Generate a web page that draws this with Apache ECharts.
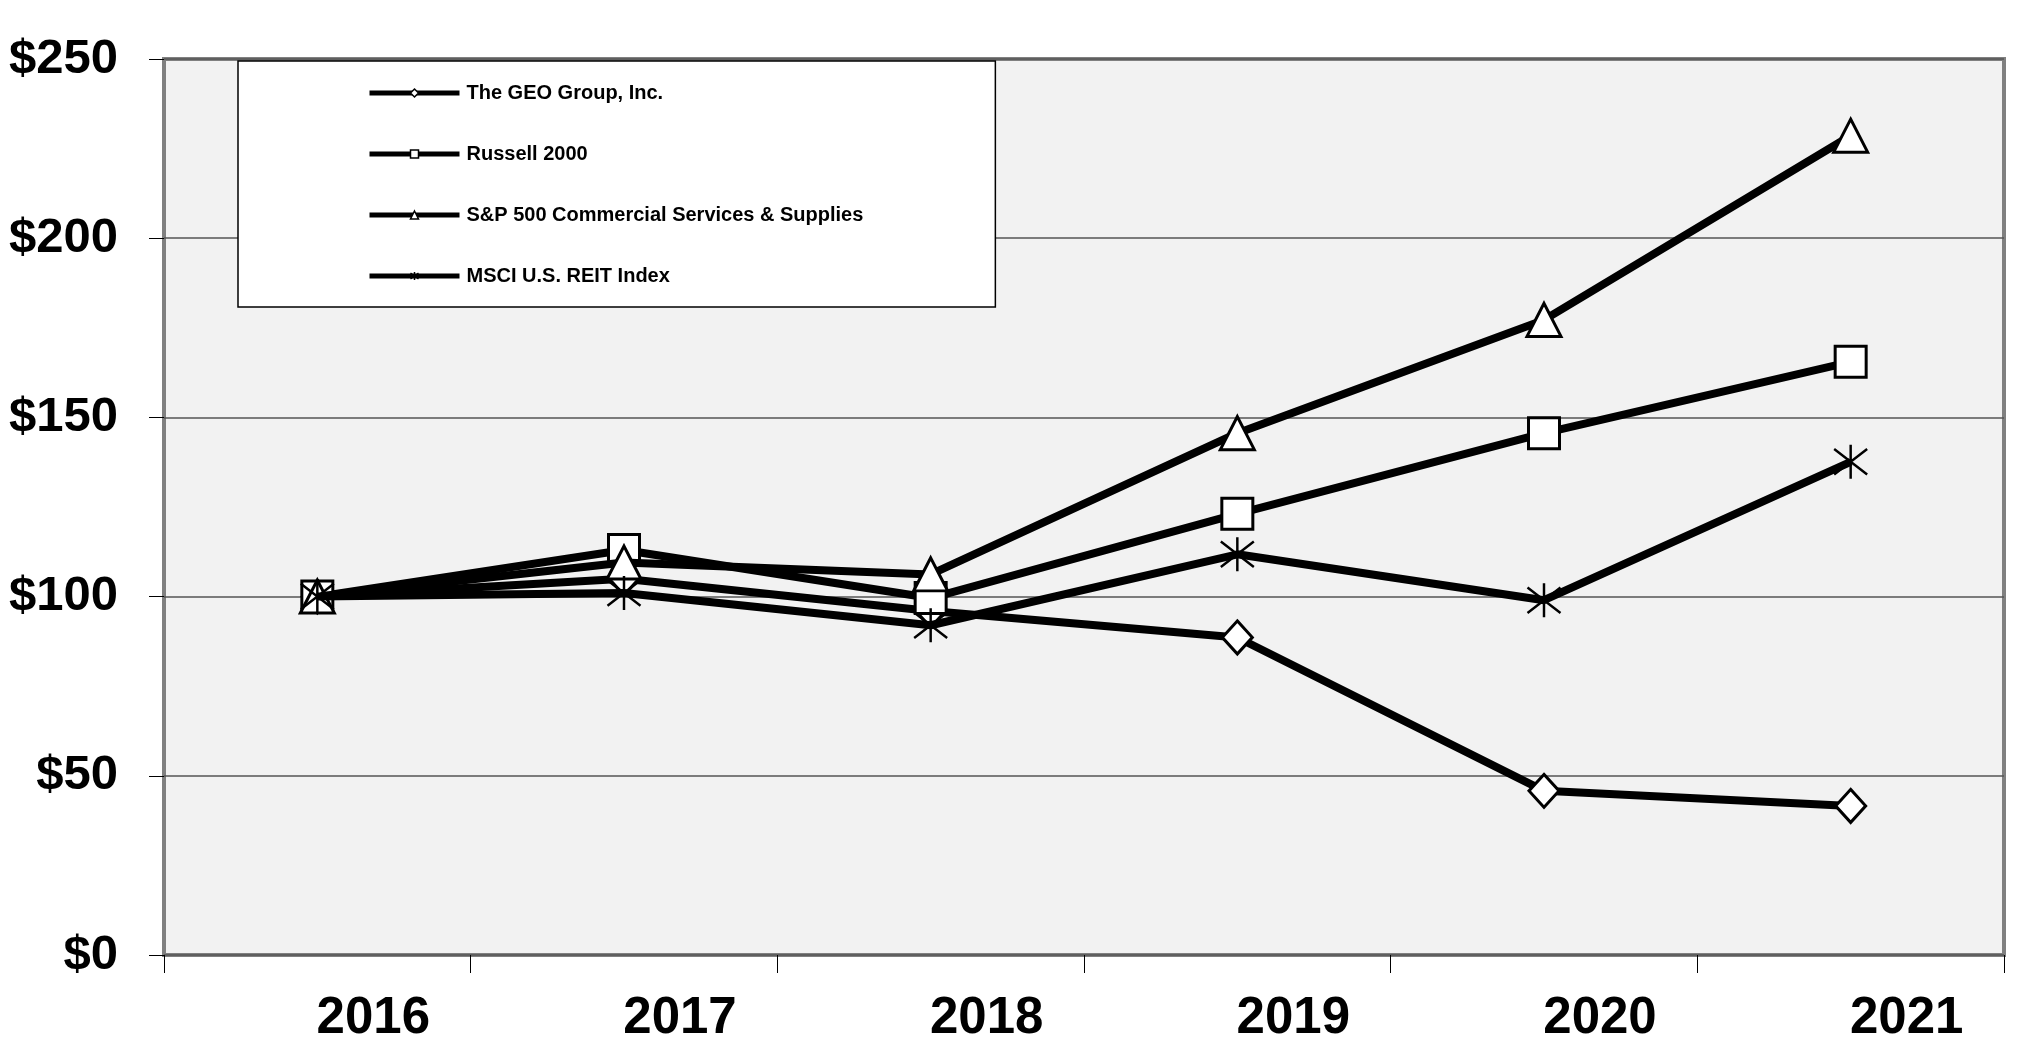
<!DOCTYPE html>
<html><head><meta charset="utf-8">
<script src="https://cdn.jsdelivr.net/npm/echarts@6/dist/echarts.min.js"></script>
<style>html,body{margin:0;padding:0;background:#fff}#c{width:2035px;height:1050px}</style>
</head><body><div id="c"></div>
<script>
// ---- data ----
const years = ['2016', '2017', '2018', '2019', '2020', '2021'];
const seriesNames = ['The GEO Group, Inc.', 'Russell 2000', 'S&P 500 Commercial Services & Supplies', 'MSCI U.S. REIT Index'];
const geoValues = [100, 105, 96, 88.6, 45.8, 41.6];
const russellValues = [100, 113, 99.6, 123.1, 145.6, 165.5];
const spValues = [100, 109.5, 106.2, 145.6, 177.2, 228.6];
const msciValues = [100, 101, 92, 111.8, 99, 137.6];
const yMin = 0, yMax = 250, yStep = 50;

// ---- styling ----
const asterisk = 'path://M16,0L16,32M1,4L31,28M1,28L31,4';
const symbols = ['diamond', 'rect', 'triangle', asterisk];
const symbolSizes = [[30, 33], [31, 31], [34, 33], [33, 34]];
const valueSets = [geoValues, russellValues, spValues, msciValues];

const chart = echarts.init(document.getElementById('c'), null, {renderer: 'canvas'});
const series = seriesNames.map((name, i) => ({
  name: name,
  type: 'line',
  data: valueSets[i],
  z: 2 + i,
  symbol: symbols[i],
  symbolSize: symbolSizes[i],
  showAllSymbol: true,
  lineStyle: {color: '#000', width: 8},
  itemStyle: {color: '#fff', borderColor: '#000', borderWidth: i === 3 ? 2.5 : 3},
  emphasis: {disabled: true},
  animation: false
}));

chart.setOption({
  animation: false,
  backgroundColor: '#fff',
  grid: {
    left: 164, right: 31, top: 59, bottom: 95,
    outerBoundsMode: 'none',
    containLabel: false,
    show: true, backgroundColor: '#f2f2f2', borderColor: '#808080', borderWidth: 4
  },
  legend: {
    data: seriesNames,
    orient: 'vertical',
    left: 238, top: 61,
    backgroundColor: '#fff',
    borderColor: '#000', borderWidth: 1.5,
    padding: [20, 132, 19, 129],
    itemWidth: 90, itemHeight: 10, itemGap: 37,
    lineStyle: {width: 5},
    itemStyle: {borderWidth: 1.5},
    textStyle: {fontFamily: '"Liberation Sans", Arial, sans-serif', fontWeight: 'bold', fontSize: 20, color: '#000', lineHeight: 24, padding: [0, 0, 0, 2]},
    selectedMode: false
  },
  xAxis: {
    type: 'category',
    data: years,
    boundaryGap: true,
    axisLine: {show: false},
    axisTick: {show: true, length: 18, lineStyle: {color: '#000', width: 1}},
    axisLabel: {
      fontFamily: '"Liberation Sans", Arial, sans-serif',
      fontWeight: 'bold', fontSize: 51, color: '#000',
      margin: 38, padding: [0, 0, 0, 112]
    },
    splitLine: {show: false}
  },
  yAxis: {
    type: 'value',
    min: yMin, max: yMax, interval: yStep,
    axisLine: {show: false},
    axisTick: {show: true, length: 15, lineStyle: {color: '#000', width: 1}},
    axisLabel: {
      fontFamily: '"Liberation Sans", Arial, sans-serif',
      fontWeight: 'bold', fontSize: 49, color: '#000', margin: 46,
      formatter: v => '$' + v
    },
    splitLine: {show: true, lineStyle: {color: '#555', width: 1.5}}
  },
  series: series
});
</script>
</body></html>
